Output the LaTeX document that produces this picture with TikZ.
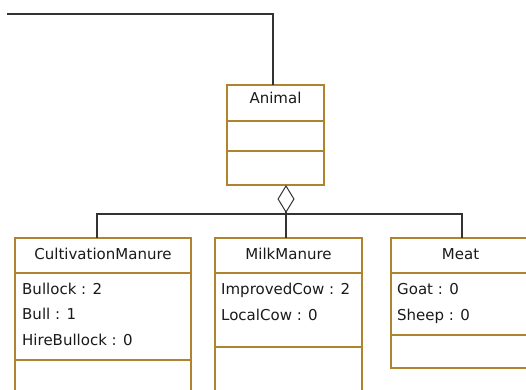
\documentclass[tikz,border=0pt]{standalone}
\usepackage{fontspec}
\setmainfont{DejaVu Sans}
\usetikzlibrary{arrows.meta, positioning}
\definecolor{classLine}{HTML}{B0842F}
\definecolor{linkLine}{HTML}{333333}
\definecolor{textInk}{HTML}{1A1A1A}

\begin{document}
\begin{tikzpicture}[
  x=1pt, y=-1pt,
  font=\fontsize{15}{18}\selectfont,
  compart/.style={draw=classLine, fill=white, line width=1.3pt, inner sep=0pt, outer sep=0pt},
  title/.style={text=textInk, anchor=base, inner sep=0pt},
  attr/.style={text=textInk, anchor=base west, inner sep=0pt},
  link/.style={draw=linkLine, line width=1.3pt},
  agg/.style={{Diamond[open, length=28pt, width=17pt, line width=1pt]}-}
]

\useasboundingbox (0,0) rectangle (526,389);
\clip (0,0) rectangle (526,389);

% =========================================================
% PARENT CLASS
% =========================================================

\node[compart, anchor=north west, minimum width=97pt, minimum height=36pt]
  (animalHead) at (227,85) {};
\node[compart, minimum width=97pt, minimum height=30pt, below=0pt of animalHead] (animalAttr) {};
\node[compart, minimum width=97pt, minimum height=34pt, below=0pt of animalAttr] (animalOps) {};
\node[title] (animalName) at (275.5,103) {Animal};

% =========================================================
% CHILD CLASSES
% =========================================================

% CultivationManure
\node[compart, anchor=north west, minimum width=176pt, minimum height=35pt]
  (cmHead) at (15,238) {};
\node[compart, minimum width=176pt, minimum height=87pt, below=0pt of cmHead] (cmAttr) {};
\node[compart, minimum width=176pt, minimum height=45pt, below=0pt of cmAttr] (cmOps) {};
\node[title] (cmName) at (103,259) {CultivationManure};

\foreach \y/\txt [count=\i] in {294/{Bullock : 2}, 319.5/{Bull : 1}, 345/{HireBullock : 0}}
  \node[attr] (cmLine\i) at (22,\y) {\txt};

% MilkManure
\node[compart, anchor=north west, minimum width=147pt, minimum height=35pt]
  (mmHead) at (215,238) {};
\node[compart, minimum width=147pt, minimum height=74pt, below=0pt of mmHead] (mmAttr) {};
\node[compart, minimum width=147pt, minimum height=50pt, below=0pt of mmAttr] (mmOps) {};
\node[title] (mmName) at (288.5,259) {MilkManure};

\foreach \y/\txt [count=\i] in {294.5/{ImprovedCow : 2}, 320/{LocalCow : 0}}
  \node[attr] (mmLine\i) at (221,\y) {\txt};

% Meat
\node[compart, anchor=north west, minimum width=139pt, minimum height=35pt]
  (meatHead) at (391,238) {};
\node[compart, minimum width=139pt, minimum height=62pt, below=0pt of meatHead] (meatAttr) {};
\node[compart, minimum width=139pt, minimum height=33pt, below=0pt of meatAttr] (meatOps) {};
\node[title] (meatName) at (460.5,259) {Meat};

\foreach \y/\txt [count=\i] in {294.5/{Goat : 0}, 320/{Sheep : 0}}
  \node[attr] (meatLine\i) at (397,\y) {\txt};

% =========================================================
% LINKS
% =========================================================

\coordinate (topEnd) at (7,14);
\coordinate (busMid) at (286,214);

\draw[link] (topEnd) -| ([xshift=-2.5pt]animalHead.north);

\draw[link, agg] ([xshift=10.5pt]animalOps.south) -- (busMid);

\draw[link] ([xshift=-6pt]cmHead.north) |- (busMid) -| ([xshift=1.5pt]meatHead.north);
\draw[link] (busMid) -- ([xshift=-2.5pt]mmHead.north);

\end{tikzpicture}
\end{document}
